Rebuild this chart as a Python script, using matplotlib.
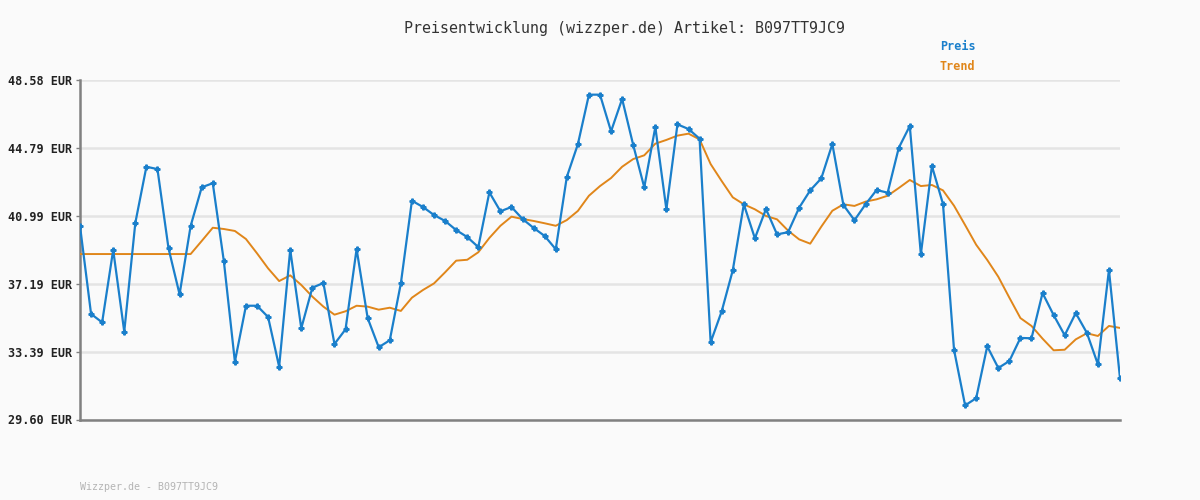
import numpy as np
import matplotlib
matplotlib.use('Agg')
import matplotlib.pyplot as plt

# price per data point (EUR)
preis = [40.42, 35.50, 35.03, 39.08, 34.51, 40.59, 43.73, 43.60, 39.17, 36.60,
         40.42, 42.58, 42.81, 38.46, 32.83, 35.96, 35.96, 35.33, 32.55, 39.09,
         34.70, 36.97, 37.23, 33.82, 34.64, 39.13, 35.27, 33.64, 34.03, 37.21,
         41.83, 41.48, 41.03, 40.70, 40.19, 39.80, 39.24, 42.30, 41.24, 41.48,
         40.81, 40.31, 39.86, 39.12, 43.16, 44.99, 47.76, 47.76, 45.71, 47.52,
         44.95, 42.58, 45.95, 41.35, 46.10, 45.84, 45.30, 33.92, 35.65, 37.94,
         41.63, 39.73, 41.37, 39.95, 40.07, 41.44, 42.41, 43.08, 45.00, 41.59,
         40.74, 41.63, 42.43, 42.28, 44.78, 46.01, 38.84, 43.77, 41.65, 33.49,
         30.39, 30.79, 33.69, 32.48, 32.87, 34.16, 34.14, 36.67, 35.44, 34.31,
         35.55, 34.45, 32.69, 37.96, 31.90]

trend = [38.85, 38.85, 38.85, 38.85, 38.85, 38.85, 38.85, 38.85, 38.85, 38.85,
         38.85, 39.58, 40.32, 40.25, 40.14, 39.69, 38.89, 38.05, 37.34, 37.66,
         37.12, 36.47, 35.91, 35.46, 35.65, 35.96, 35.91, 35.74, 35.85, 35.67,
         36.41, 36.84, 37.21, 37.83, 38.48, 38.53, 38.95, 39.75, 40.43, 40.94,
         40.81, 40.70, 40.57, 40.43, 40.75, 41.26, 42.11, 42.65, 43.10, 43.73,
         44.16, 44.37, 45.02, 45.23, 45.47, 45.58, 45.26, 43.88, 42.93, 42.02,
         41.63, 41.35, 40.98, 40.79, 40.16, 39.67, 39.43, 40.38, 41.27, 41.63,
         41.54, 41.78, 41.91, 42.11, 42.54, 42.99, 42.65, 42.71, 42.41, 41.55,
         40.47, 39.37, 38.52, 37.58, 36.41, 35.27, 34.83, 34.12, 33.47, 33.50,
         34.08, 34.42, 34.27, 34.83, 34.72]

yticks = [29.60, 33.39, 37.19, 40.99, 44.79, 48.58]
artikel = 'B097TT9JC9'

blue = '#1a7fcb'
orange = '#e0861a'
mono = 'DejaVu Sans Mono'

fig = plt.figure(figsize=(12, 5), dpi=100, facecolor='#fafafa')
ax = fig.add_axes([80/1200, 80.5/500, 1040/1200, 339.5/500])
ax.set_facecolor('#fafafa')

x = np.arange(len(preis))
ax.plot(x, trend, color=orange, lw=1.4, zorder=3)
ax.plot(x, preis, color=blue, lw=1.6, marker='P', ms=3.5, zorder=4)

ax.set_xlim(0, len(preis) - 1)
ax.set_ylim(yticks[0], yticks[-1])
ax.set_yticks(yticks)
ax.set_yticklabels([f'{v:.2f} EUR' for v in yticks], fontfamily=mono,
                   fontweight='bold', fontsize=8.5, color='#222222')
ax.set_xticks([])
ax.grid(axis='y', color='#e4e4e4', lw=1.8, zorder=0)
ax.tick_params(axis='y', length=3, color='#808080', width=1, pad=3)

for s in ['top', 'right']:
    ax.spines[s].set_visible(False)
for s in ['left', 'bottom']:
    ax.spines[s].set_color('#808080')
    ax.spines[s].set_linewidth(1.8)

fig.text(624/1200, 1 - 28/500, f'Preisentwicklung (wizzper.de) Artikel: {artikel}',
         ha='center', va='center', fontfamily=mono, fontsize=10.8, color='#333333')
fig.text(940/1200, 1 - 47/500, 'Preis', ha='left', va='center', fontfamily=mono,
         fontweight='bold', fontsize=8.5, color=blue)
fig.text(940/1200, 1 - 67/500, 'Trend', ha='left', va='center', fontfamily=mono,
         fontweight='bold', fontsize=8.5, color=orange)
fig.text(80/1200, 1 - 487/500, f'Wizzper.de - {artikel}', ha='left', va='center',
         fontfamily=mono, fontsize=7.2, color='#b4b4b4')

fig.savefig('out.png', dpi=100, facecolor=fig.get_facecolor())
